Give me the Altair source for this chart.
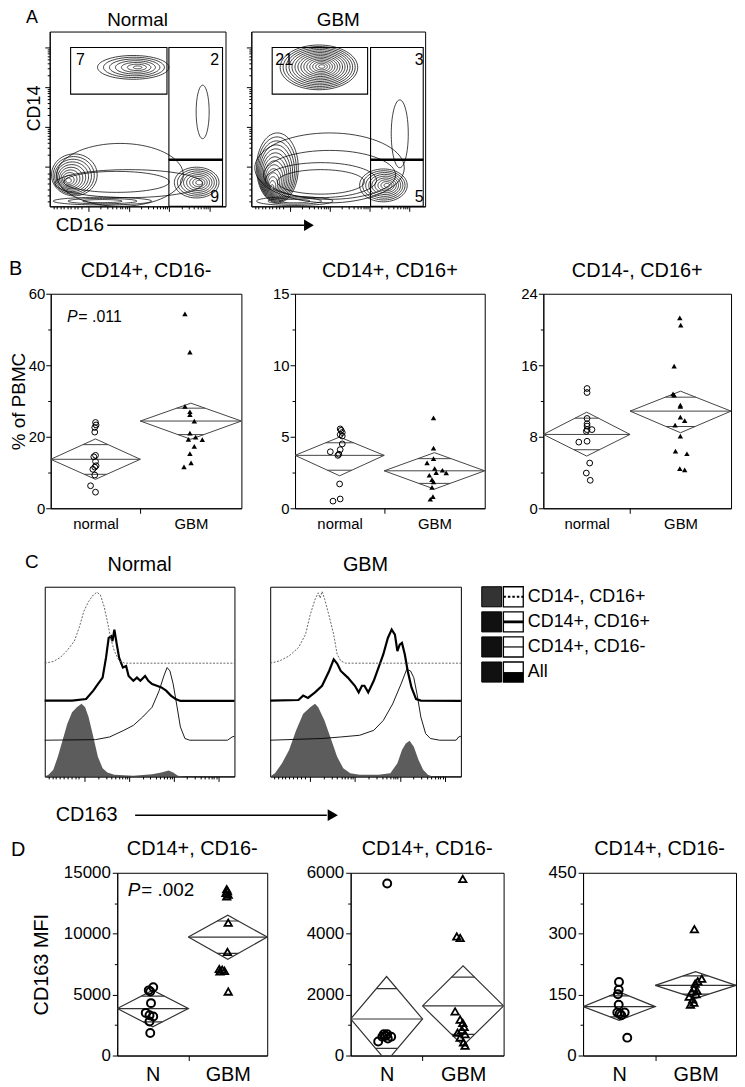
import altair as alt
import numpy as np
import pandas as pd

FONT = "Liberation Sans"

# ======================= Panel A : contour plots =======================
# cluster shape parameters (percent of axis range)
AN_ocx = [47.5, 87.0, 14.0, 83.6, 40.0, 45.0, 38.0, 30.0]
AN_ocy = [79.5, 54.0, 18.0, 13.6, 18.0, 13.0, 14.0, 3.0]
AN_icx = [50.0, 87.0, 10.7, 85.0, 40.0, 45.0, 38.0, 30.0]
AN_icy = [79.5, 54.0, 14.8, 13.6, 18.0, 13.0, 14.0, 3.0]
AN_rx = [20.3, 3.7, 13.0, 12.7, 36.0, 42.0, 30.0, 28.0]
AN_ry = [6.8, 15.3, 12.0, 8.8, 18.0, 8.0, 6.0, 2.2]
AN_rings = [7, 1, 10, 8, 1, 1, 1, 3]
AN_smin = [0.12, 1.0, 0.12, 0.15, 1.0, 1.0, 1.0, 0.4]

AG_ocx = [38.9, 85.4, 15.0, 76.0, 45.0, 45.0, 40.0, 40.0, 25.0]
AG_ocy = [79.5, 41.5, 22.0, 12.0, 22.0, 18.0, 15.0, 14.0, 3.0]
AG_icx = [40.5, 85.4, 12.0, 78.0, 45.0, 45.0, 40.0, 40.0, 25.0]
AG_icy = [80.0, 41.5, 10.8, 12.0, 22.0, 18.0, 15.0, 14.0, 3.0]
AG_rx = [22.3, 4.9, 12.0, 13.7, 43.0, 38.0, 32.0, 25.0, 22.0]
AG_ry = [12.8, 19.4, 20.0, 9.4, 20.0, 14.0, 10.0, 7.0, 2.5]
AG_rings = [14, 1, 14, 9, 1, 1, 1, 1, 3]
AG_smin = [0.08, 1.0, 0.08, 0.12, 1.0, 1.0, 1.0, 1.0, 0.4]

# gates
AN_gx0 = [11.9, 67.8, 67.8]
AN_gx1 = [66.7, 98.3, 98.3]
AG_gx0 = [12.0, 68.6, 68.6]
AG_gx1 = [66.9, 98.9, 98.9]
A_gy0 = [64.2, 26.7, 0.0]
A_gy1 = [90.9, 90.9, 26.7]
AN_lab = ["7", "2", "9"]
AN_lx = [17.5, 93.8, 93.8]
AG_lab = ["21", "3", "5"]
AG_lx = [18.9, 96.6, 96.6]
A_ly = [83.5, 83.5, 5.1]

# ======================= Panel B : % of PBMC =======================
B1_norm_y = [24.0, 23.3, 22.6, 21.3, 14.8, 14.4, 13.1, 11.9, 11.5, 10.9, 9.3, 6.3, 4.5]
B1_norm_x = [0.235, 0.238, 0.231, 0.231, 0.235, 0.226, 0.235, 0.238, 0.231, 0.221, 0.231, 0.209, 0.235]
B1_gbm_y = [54.4, 43.7, 28.5, 27.0, 26.2, 24.4, 21.0, 19.9, 19.3, 19.2, 17.3, 15.3, 12.7, 11.6]
B1_gbm_x = [0.704, 0.730, 0.704, 0.730, 0.730, 0.753, 0.730, 0.760, 0.722, 0.795, 0.753, 0.730, 0.736, 0.699]
B1_dia_n = [13.7, 19.4, 8.1, 17.8, 9.5]
B1_dia_g = [24.4, 29.4, 19.3, 28.0, 20.6]

B2_norm_y = [5.55, 5.45, 5.3, 5.15, 5.05, 4.5, 4.1, 3.95, 3.78, 3.7, 1.7, 0.65, 0.5]
B2_norm_x = [0.238, 0.243, 0.249, 0.238, 0.249, 0.249, 0.238, 0.186, 0.231, 0.226, 0.235, 0.238, 0.200]
B2_gbm_y = [6.32, 4.21, 3.47, 3.17, 2.78, 2.5, 2.66, 2.48, 2.31, 2.01, 1.85, 1.46, 0.81, 0.63]
B2_gbm_x = [0.730, 0.730, 0.730, 0.696, 0.736, 0.744, 0.777, 0.797, 0.708, 0.722, 0.730, 0.722, 0.727, 0.713]
B2_dia_n = [3.7, 4.98, 2.27, 4.58, 2.66]
B2_dia_g = [2.62, 3.89, 1.34, 3.47, 1.74]

B3_norm_y = [13.4, 12.95, 10.05, 9.45, 9.2, 8.8, 8.8, 8.6, 7.4, 7.5, 5.06, 3.94, 3.13]
B3_norm_x = [0.233, 0.233, 0.233, 0.233, 0.233, 0.233, 0.259, 0.229, 0.189, 0.233, 0.247, 0.229, 0.250]
B3_gbm_y = [21.3, 20.5, 15.9, 12.8, 12.65, 11.53, 11.4, 10.2, 9.8, 9.3, 8.07, 6.4, 6.1, 4.43, 4.3]
B3_gbm_x = [0.727, 0.732, 0.697, 0.691, 0.697, 0.730, 0.730, 0.730, 0.753, 0.702, 0.730, 0.704, 0.765, 0.727, 0.753]
B3_dia_n = [8.26, 10.75, 5.84, 10.08, 6.55]
B3_dia_g = [10.87, 13.1, 8.45, 12.43, 9.15]

# ======================= Panel C : CD163 histograms =======================
C_series = ["All", "CD14+, CD16-", "CD14+, CD16+", "CD14-, CD16+"]
C_offsets = [0.0, 19.1, 39.8, 59.7]

CN_fill_x = [0, 2.0, 4.5, 6.9, 9.4, 11.9, 14.4, 16.9, 19.4, 21.3, 23.1, 25.6, 28.0, 30.5, 33.0, 36.7, 46.7, 56.6, 61.5, 65.3, 67.7, 70.2, 73.9, 100]
CN_fill_h = [0, 0.9, 3.5, 10.4, 19.1, 27.8, 33.9, 36.5, 38.3, 36.5, 31.3, 20.9, 10.4, 4.3, 2.1, 0.9, 0.3, 1.2, 2.1, 3.1, 2.1, 0.3, 0, 0]
CN_thin_x = [0, 26.8, 34.2, 41.7, 46.7, 51.6, 56.6, 60.3, 62.8, 64.5, 66.0, 67.7, 69.5, 71.5, 73.9, 76.4, 96.3, 98.8, 100]
CN_thin_h = [0, 0.3, 1.7, 5.2, 7.8, 12.2, 17.4, 26.1, 33.9, 38.3, 36.5, 29.6, 19.1, 7.0, 0.9, 0, 0, 1.7, 2.1]
CN_thick_x = [0, 14.4, 21.8, 25.6, 28.0, 30.5, 32.3, 33.7, 35.0, 35.7, 36.7, 38.0, 39.2, 41.2, 42.9, 44.2, 46.7, 48.6, 50.4, 52.9, 54.6, 56.6, 59.1, 61.5, 64.0, 66.5, 69.0, 71.5, 100]
CN_thick_h = [0.2, 0.2, 1.0, 5.4, 8.9, 12.3, 22.8, 33.2, 34.1, 31.5, 37.6, 29.7, 22.8, 17.6, 18.4, 13.2, 10.6, 12.3, 10.6, 13.2, 10.6, 8.9, 8.0, 7.1, 5.4, 2.8, 1.0, 0, 0]
CN_dot_x = [0, 4.5, 8.2, 11.9, 15.6, 18.1, 20.6, 23.1, 25.6, 27.5, 29.3, 31.3, 33.0, 34.7, 36.7, 39.2, 42.2, 100]
CN_dot_h = [0, 0.9, 3.0, 6.8, 11.7, 18.6, 27.3, 32.5, 36.0, 37.4, 36.0, 29.9, 22.1, 13.4, 6.4, 1.2, 0, 0]

CG_fill_x = [0, 2.5, 6.2, 9.9, 13.6, 17.3, 21.0, 23.5, 25.2, 28.4, 32.1, 35.1, 38.3, 42.0, 46.9, 56.8, 63.0, 66.7, 69.1, 71.1, 73.1, 75.3, 77.8, 80.2, 82.7, 85.2, 100]
CG_fill_h = [0, 1.7, 7.0, 13.9, 24.3, 33.0, 36.5, 38.3, 36.5, 29.6, 19.1, 10.4, 4.3, 1.7, 0.9, 0.9, 1.7, 7.0, 13.9, 17.4, 18.8, 15.7, 8.7, 3.5, 0.9, 0, 0]
CG_thin_x = [0, 27.2, 37.0, 46.9, 54.3, 59.3, 64.2, 68.6, 71.6, 73.6, 75.3, 77.0, 79.0, 81.5, 84.0, 88.9, 97.5, 98.8, 100]
CG_thin_h = [0, 0.9, 1.7, 2.6, 5.2, 10.4, 19.1, 29.6, 37.4, 36.5, 33.0, 24.3, 12.2, 3.5, 0.9, 0, 0, 1.7, 2.1]
CG_thick_x = [0, 14.8, 17.3, 19.8, 23.5, 27.2, 30.9, 33.3, 35.1, 37.0, 40.7, 44.4, 46.4, 48.1, 49.4, 51.4, 54.3, 56.8, 59.3, 61.7, 63.7, 65.4, 66.7, 67.9, 69.1, 70.6, 72.1, 74.1, 76.5, 79.0, 100]
CG_thick_h = [0.2, 0.5, 2.8, 1.6, 4.5, 8.0, 15.8, 21.9, 19.7, 15.8, 12.3, 8.0, 4.5, 8.0, 8.0, 4.5, 10.6, 17.6, 24.5, 33.2, 37.6, 35.0, 26.3, 29.7, 30.6, 24.5, 15.8, 7.1, 1.0, 0.2, 0]
CG_dot_x = [0, 4.9, 9.9, 14.8, 18.5, 21.0, 23.5, 25.2, 26.2, 27.2, 28.6, 30.9, 33.3, 35.1, 37.0, 39.5, 100]
CG_dot_h = [0, 1.2, 3.8, 8.2, 15.1, 25.6, 33.6, 37.1, 34.3, 37.8, 33.6, 24.9, 15.1, 4.7, 1.2, 0, 0]

LEG_labels = ["CD14-, CD16+", "CD14+, CD16+", "CD14+, CD16-", "All"]
LEG_fill = ["#333333", "#111111", "#111111", "#111111"]

# ======================= Panel D : CD163 MFI =======================
D1_norm_y = [5600, 5350, 5250, 4300, 3500, 3300, 3200, 2800, 1850]
D1_norm_x = [0.24, 0.21, 0.22, 0.225, 0.19, 0.215, 0.24, 0.215, 0.22]
D1_gbm_y = [13650, 13500, 13350, 13200, 13050, 10900, 8500, 7100, 7050, 6950, 6900, 5250]
D1_gbm_x = [0.73, 0.735, 0.725, 0.74, 0.73, 0.74, 0.735, 0.68, 0.70, 0.715, 0.685, 0.74]
D1_dia_n = [3857, 5357, 2357, 4875, 2760]
D1_dia_g = [9720, 11520, 7900, 11040, 8390]

D2_norm_y = [5650, 460, 620, 700, 700, 620, 560, 640]
D2_norm_x = [0.239, 0.18, 0.207, 0.217, 0.239, 0.265, 0.243, 0.228]
D2_gbm_y = [5800, 3910, 3860, 1450, 1180, 1070, 940, 840, 750, 700, 590, 430, 320]
D2_gbm_x = [0.733, 0.694, 0.716, 0.683, 0.716, 0.733, 0.742, 0.727, 0.699, 0.748, 0.716, 0.738, 0.748]
D2_dia_n = [1200, 2593, -193, 2196, 236]
D2_dia_g = [1629, 2946, 321, 2571, 696]

D3_norm_y = [181, 162, 151, 125, 106, 103, 106, 99, 44]
D3_norm_x = [0.235, 0.233, 0.228, 0.233, 0.224, 0.239, 0.272, 0.250, 0.289]
D3_gbm_y = [311, 189, 183, 177, 165, 160, 157, 151, 145, 138, 130, 125]
D3_gbm_x = [0.728, 0.776, 0.750, 0.733, 0.724, 0.745, 0.711, 0.739, 0.694, 0.717, 0.725, 0.702]
D3_dia_n = [120.5, 156.7, 86.8, 147, 95]
D3_dia_g = [172.8, 206.5, 140.6, 196, 151]


# ======================= helpers =======================
def log_ticks(starts, width, low):
    major = [round(float(s), 3) for s in starts] + [round(float(starts[-1] + width), 3)]
    minor = [round(float(s + width * np.log10(k)), 3) for s in starts for k in range(2, 10)]
    minor += [float(v) for v in low]
    return major, minor


def js_list(vals):
    return "[" + ",".join(repr(float(v)) for v in vals) + "]"


def tick_axis(major, minor, **kw):
    mj = js_list(major)
    return alt.Axis(values=sorted(major + minor), labels=False, grid=False,
                    tickSize={"condition": {"test": f"indexof({mj}, datum.value) >= 0", "value": 5}, "value": 2.5},
                    domainColor="black", tickColor="black", **kw)


A_xmaj, A_xmin = log_ticks([22, 45, 68], 23, [2, 4, 6, 8, 10, 12, 14, 16, 18])
A_ymaj, A_ymin = log_ticks([22.7, 45.4, 68.1], 22.7, [3, 6, 9.7, 13, 16, 19])
C_xmaj, C_xmin = log_ticks([21, 44.5, 68], 23.5, [2, 4, 6, 8, 10, 12, 14, 16, 18])


def blank(w, h, letter=None, dx=0, offset=0, fs=18):
    props = dict(width=w, height=h, view=alt.ViewBackground(strokeOpacity=0))
    if letter:
        props["title"] = alt.TitleParams(letter, anchor="start", dx=dx, offset=offset,
                                         fontSize=fs, fontWeight="normal", font=FONT)
    return alt.Chart(pd.DataFrame({"v": [0]})).mark_point(opacity=0).encode(
        x=alt.X("v:Q", axis=None), y=alt.Y("v:Q", axis=None)).properties(**props)


def contour_panel(title, ocx, ocy, icx, icy, rx, ry, rings, smin,
                  gx0, gx1, labs, lx, w, h, first):
    th = np.linspace(0, 2 * np.pi, 73)
    rows = []
    for j in range(len(ocx)):
        n = rings[j]
        for r in range(n):
            t = r / (n - 1) if n > 1 else 0.0
            s = 1 - t * (1 - smin[j])
            cx = ocx[j] + t * (icx[j] - ocx[j])
            cy = ocy[j] + t * (icy[j] - ocy[j])
            for i, a in enumerate(th):
                rows.append({"ring": f"{j}_{r}", "i": i,
                             "x": float(cx + rx[j] * s * np.cos(a)),
                             "y": float(cy + ry[j] * s * np.sin(a))})
    cdf = pd.DataFrame(rows)
    xsc = alt.Scale(domain=[0, 100], nice=False)
    ysc = alt.Scale(domain=[0, 100], nice=False)
    xax = tick_axis(A_xmaj, A_xmin, title=None)
    if first:
        yax = tick_axis(A_ymaj, A_ymin, title="CD14", titleFontSize=18, titleFontWeight="normal",
                        titleX=-6, titleY=77)
    else:
        yax = tick_axis(A_ymaj, A_ymin, title=None)

    def X(f):
        return alt.X(f"{f}:Q", scale=xsc, axis=xax)

    def Y(f):
        return alt.Y(f"{f}:Q", scale=ysc, axis=yax)

    lines = alt.Chart(cdf).mark_line(color="black", strokeWidth=0.75, clip=True).encode(
        x=X("x"), y=Y("y"), detail="ring:N", order="i:Q")
    gdf = pd.DataFrame({"x0": gx0, "x1": gx1, "y0": A_gy0, "y1": A_gy1})
    gates = alt.Chart(gdf).mark_rect(fillOpacity=0, stroke="black", strokeWidth=1.1).encode(
        x=X("x0"), x2="x1:Q", y=Y("y0"), y2="y1:Q")
    tdf = pd.DataFrame({"tx0": [gx0[1]], "tx1": [gx1[1]], "ty": [A_gy1[2]]})
    thick = alt.Chart(tdf).mark_rule(strokeWidth=2.5, color="black").encode(
        x=X("tx0"), x2="tx1:Q", y=Y("ty"))
    ldf = pd.DataFrame({"lx": lx, "ly": A_ly, "t": labs})
    labels = alt.Chart(ldf).mark_text(fontSize=16, color="black").encode(
        x=X("lx"), y=Y("ly"), text="t:N")
    layers = [lines, gates, thick, labels]
    if first:
        ann = alt.Chart(pd.DataFrame({"t": ["CD16"]}))
        layers += [
            ann.mark_text(align="left", baseline="middle", fontSize=19, color="black").encode(
                text="t:N", x=alt.value(6), y=alt.value(195)),
            ann.mark_rule(strokeWidth=1.5, color="black").encode(
                x=alt.value(58), x2=alt.value(256), y=alt.value(195)),
            ann.mark_point(shape="triangle-right", filled=True, size=130, color="black", opacity=1).encode(
                x=alt.value(261), y=alt.value(195)),
        ]
    return alt.layer(*layers).properties(
        width=w, height=h,
        title=alt.TitleParams(title, fontSize=19, fontWeight="normal", offset=2, font=FONT))


def dot_panel(title, nx, ny, gx, gy, dia_n, dia_g, mid, ymax, ymajor, yminor, names,
              w, h, big, ytitle=None, ptext=None, pxy=None):
    cn, cg = mid / 2, (1 + mid) / 2
    xsc = alt.Scale(domain=[0, 1], nice=False, zero=False)
    ysc = alt.Scale(domain=[0, ymax], nice=False)
    xax = alt.Axis(values=[cn, mid, cg],
                   labelExpr=f"datum.value < {mid - 0.01} ? '{names[0]}' : (datum.value > {mid + 0.01} ? '{names[1]}' : '')",
                   tickColor={"condition": {"test": f"abs(datum.value - {mid}) < 0.001", "value": "black"},
                              "value": "transparent"},
                   tickSize=5, grid=False, title=None, labelFontSize=20 if big else 15,
                   labelPadding=4 if big else 3, domainColor="black", labelColor="black")
    mj = js_list(ymajor)
    ykw = dict(values=sorted(ymajor + yminor), format="d",
               labelExpr=f"indexof({mj}, datum.value) >= 0 ? datum.label : ''",
               tickSize={"condition": {"test": f"indexof({mj}, datum.value) >= 0", "value": 5}, "value": 3},
               grid=False, labelFontSize=17 if big else 15, labelPadding=2 if big else 1,
               domainColor="black", tickColor="black", labelColor="black")
    if ytitle:
        yax = alt.Axis(title=ytitle, titleFontSize=20 if big else 19, titleFontWeight="normal",
                       titlePadding=12 if big else 0, **ykw)
    else:
        yax = alt.Axis(title=None, **ykw)

    def X(f):
        return alt.X(f"{f}:Q", scale=xsc, axis=xax)

    def Y(f):
        return alt.Y(f"{f}:Q", scale=ysc, axis=yax)

    poly, hl = [], []
    for g, x0, x1, d in (("n", 0.0, mid, dia_n), ("g", mid, 1.0, dia_g)):
        mean, top, bot, ohi, olo = d
        xc = (x0 + x1) / 2
        for i, (px, py) in enumerate([(x0, mean), (xc, top), (x1, mean), (xc, bot), (x0, mean)]):
            poly.append({"grp": g, "i": i, "x": px, "y": py})
        hl.append({"x": x0, "x2": x1, "y": mean})
        for yl in (ohi, olo):
            span = (top - mean) if yl >= mean else (mean - bot)
            half = (x1 - x0) / 2 * (1 - abs(yl - mean) / span)
            hl.append({"x": xc - half, "x2": xc + half, "y": yl})
    lc = "#333333" if big else "#444444"
    lw = 1.2 if big else 1.0
    dia = alt.Chart(pd.DataFrame(poly)).mark_line(color=lc, strokeWidth=lw, clip=True).encode(
        x=X("x"), y=Y("y"), detail="grp:N", order="i:Q")
    hls = alt.Chart(pd.DataFrame(hl)).mark_rule(color=lc, strokeWidth=lw, clip=True).encode(
        x=X("x"), x2="x2:Q", y=Y("y"))
    if big:
        circ = alt.Chart(pd.DataFrame({"x": nx, "y": ny})).mark_point(
            shape="circle", filled=False, color="black", size=64, strokeWidth=2, opacity=1).encode(x=X("x"), y=Y("y"))
        tri = alt.Chart(pd.DataFrame({"x": gx, "y": gy})).mark_point(
            shape="triangle-up", filled=False, color="black", size=55, strokeWidth=1.8, opacity=1).encode(x=X("x"), y=Y("y"))
    else:
        circ = alt.Chart(pd.DataFrame({"x": nx, "y": ny})).mark_point(
            shape="circle", filled=False, color="black", size=34, strokeWidth=1, opacity=1).encode(x=X("x"), y=Y("y"))
        tri = alt.Chart(pd.DataFrame({"x": gx, "y": gy})).mark_point(
            shape="triangle-up", filled=True, color="black", size=30, opacity=1).encode(x=X("x"), y=Y("y"))
    layers = [dia, hls, circ, tri]
    if ptext:
        fs = 19 if big else 16
        pdf = pd.DataFrame({"x": [pxy[0]], "y": [pxy[1]], "p": ["P"], "t": [ptext]})
        layers += [
            alt.Chart(pdf).mark_text(align="left", baseline="middle", fontStyle="italic", fontSize=fs,
                                     color="black").encode(x=X("x"), y=Y("y"), text="p:N"),
            alt.Chart(pdf).mark_text(align="left", baseline="middle", fontSize=fs, dx=fs * 0.72,
                                     color="black").encode(x=X("x"), y=Y("y"), text="t:N"),
        ]
    return alt.layer(*layers).properties(
        width=w, height=h,
        title=alt.TitleParams(title, fontSize=20, fontWeight="normal", offset=6 if not big else 5, font=FONT))


def hist_panel(title, curves, w, h, annot):
    rows = []
    for name, off, (xs, hs) in zip(C_series, C_offsets, curves):
        for xi, hi in zip(xs, hs):
            rows.append({"s": name, "x": float(xi), "y": float(off + hi), "base": float(off)})
    df = pd.DataFrame(rows)
    X = alt.X("x:Q", scale=alt.Scale(domain=[0, 100], nice=False), axis=tick_axis(C_xmaj, C_xmin, title=None))
    Y = alt.Y("y:Q", scale=alt.Scale(domain=[0, 100], nice=False), axis=None)
    base = alt.Chart(df)
    area = base.transform_filter(alt.datum.s == "All").mark_area(color="#5c5c5c", opacity=1).encode(
        x=X, y=Y, y2="base:Q")
    thin = base.transform_filter(alt.datum.s == "CD14+, CD16-").mark_line(color="black", strokeWidth=0.9).encode(x=X, y=Y)
    thick = base.transform_filter(alt.datum.s == "CD14+, CD16+").mark_line(color="black", strokeWidth=2.2).encode(x=X, y=Y)
    dot = base.transform_filter(alt.datum.s == "CD14-, CD16+").mark_line(
        color="#555555", strokeWidth=0.9, strokeDash=[2, 1.5]).encode(x=X, y=Y)
    layers = [area, thin, thick, dot]
    if annot:
        ann = alt.Chart(pd.DataFrame({"t": ["CD163"]}))
        layers += [
            ann.mark_text(align="left", baseline="middle", fontSize=20, color="black").encode(
                text="t:N", x=alt.value(11), y=alt.value(230)),
            ann.mark_rule(strokeWidth=1.5, color="black").encode(
                x=alt.value(91), x2=alt.value(284), y=alt.value(230)),
            ann.mark_point(shape="triangle-right", filled=True, size=140, color="black", opacity=1).encode(
                x=alt.value(290), y=alt.value(230)),
        ]
    return alt.layer(*layers).properties(
        width=w, height=h,
        title=alt.TitleParams(title, fontSize=20, fontWeight="normal", offset=12, font=FONT))


def legend_chart():
    df = pd.DataFrame({"label": LEG_labels, "fill": LEG_fill})
    df["x0"], df["x1"], df["x2"], df["x3"], df["xt"] = 0.0, 20.0, 21.8, 41.8, 46.4
    xs = alt.Scale(domain=[0, 170], nice=False)
    Y = alt.Y("label:N", sort=LEG_labels, axis=None, scale=alt.Scale(paddingInner=0.2, paddingOuter=0))
    base = alt.Chart(df)

    def X(f):
        return alt.X(f"{f}:Q", scale=xs, axis=None)

    r1 = base.mark_rect(stroke="black", strokeWidth=1).encode(
        x=X("x0"), x2="x1:Q", y=Y, fill=alt.Fill("fill:N", scale=None))
    r2 = base.mark_rect(fill="white", stroke="black", strokeWidth=1.3).encode(x=X("x2"), x2="x3:Q", y=Y)
    d1 = base.transform_filter(alt.datum.label == LEG_labels[0]).mark_rule(
        strokeWidth=2, strokeDash=[2.5, 2], color="black").encode(x=X("x2"), x2="x3:Q", y=Y)
    d2 = base.transform_filter(alt.datum.label == LEG_labels[1]).mark_rule(
        strokeWidth=2.8, color="black").encode(x=X("x2"), x2="x3:Q", y=Y)
    d3 = base.transform_filter(alt.datum.label == LEG_labels[2]).mark_rule(
        strokeWidth=1.2, color="black").encode(x=X("x2"), x2="x3:Q", y=Y)
    d4 = base.transform_filter(alt.datum.label == LEG_labels[3]).mark_rule(
        strokeWidth=10, yOffset=5, color="black").encode(x=X("x2"), x2="x3:Q", y=Y)
    txt = base.mark_text(align="left", baseline="middle", fontSize=18, color="black").encode(
        x=X("xt"), y=Y, text="label:N")
    return alt.layer(r1, r2, d1, d2, d3, d4, txt).properties(
        width=170, height=96, view=alt.ViewBackground(strokeOpacity=0))


# ======================= assemble =======================
A_norm = contour_panel("Normal", AN_ocx, AN_ocy, AN_icx, AN_icy, AN_rx, AN_ry, AN_rings, AN_smin,
                       AN_gx0, AN_gx1, AN_lab, AN_lx, 177, 176, True)
A_gbm = contour_panel("GBM", AG_ocx, AG_ocy, AG_icx, AG_icy, AG_rx, AG_ry, AG_rings, AG_smin,
                      AG_gx0, AG_gx1, AG_lab, AG_lx, 175, 176, False)

B1 = dot_panel("CD14+, CD16-", B1_norm_x, B1_norm_y, B1_gbm_x, B1_gbm_y, B1_dia_n, B1_dia_g, 0.47, 60,
               [0, 20, 40, 60], [10, 30, 50], ["normal", "GBM"], 192, 216, False,
               ytitle="% of PBMC", ptext="= .011", pxy=(0.085, 53.6))
B2 = dot_panel("CD14+, CD16+", B2_norm_x, B2_norm_y, B2_gbm_x, B2_gbm_y, B2_dia_n, B2_dia_g, 0.47, 15,
               [0, 5, 10, 15], [2.5, 7.5, 12.5], ["normal", "GBM"], 191, 216, False)
B3 = dot_panel("CD14-, CD16+", B3_norm_x, B3_norm_y, B3_gbm_x, B3_gbm_y, B3_dia_n, B3_dia_g, 0.462, 24,
               [0, 8, 16, 24], [4, 12, 20], ["normal", "GBM"], 189, 216, False)

C_norm = hist_panel("Normal", [(CN_fill_x, CN_fill_h), (CN_thin_x, CN_thin_h), (CN_thick_x, CN_thick_h),
                               (CN_dot_x, CN_dot_h)], 191, 191, True)
C_gbm = hist_panel("GBM", [(CG_fill_x, CG_fill_h), (CG_thin_x, CG_thin_h), (CG_thick_x, CG_thick_h),
                           (CG_dot_x, CG_dot_h)], 192, 191, False)

D1 = dot_panel("CD14+, CD16-", D1_norm_x, D1_norm_y, D1_gbm_x, D1_gbm_y, D1_dia_n, D1_dia_g, 0.474, 15000,
               [0, 5000, 10000, 15000], [2500, 7500, 12500], ["N", "GBM"], 151, 184, True,
               ytitle="CD163 MFI", ptext="= .002", pxy=(0.07, 13600))
D2 = dot_panel("CD14+, CD16-", D2_norm_x, D2_norm_y, D2_gbm_x, D2_gbm_y, D2_dia_n, D2_dia_g, 0.47, 6000,
               [0, 2000, 4000, 6000], [1000, 3000, 5000], ["N", "GBM"], 154, 184, True)
D3 = dot_panel("CD14+, CD16-", D3_norm_x, D3_norm_y, D3_gbm_x, D3_gbm_y, D3_dia_n, D3_dia_g, 0.472, 450,
               [0, 150, 300, 450], [75, 225, 375], ["N", "GBM"], 154, 184, True)

rowA = alt.hconcat(blank(41, 1, "A", 17, 2, 18), A_norm, blank(26, 1), A_gbm,
                   spacing=0, bounds="flush")
rowB = alt.hconcat(blank(42, 1, "B", 0, 13, 20), B1, blank(54, 1), B2, blank(59, 1), B3,
                   spacing=0, bounds="flush")
rowC = alt.hconcat(blank(36, 1, "C", 16, 13, 19), C_norm, blank(36, 1), C_gbm, blank(21, 1), legend_chart(),
                   spacing=0, bounds="flush")
rowD = alt.hconcat(blank(109, 1, "D", 2, 11, 20), D1, blank(84, 1), D2, blank(80, 1), D3,
                   spacing=0, bounds="flush")

chart = alt.vconcat(
    rowA,
    alt.vconcat(rowB, alt.vconcat(rowC, rowD, spacing=12), spacing=20),
    spacing=22,
).properties(
    padding={"left": 0, "top": -3, "right": 0, "bottom": 0}
).configure(font=FONT).configure_view(
    stroke="black", strokeWidth=1
).configure_axis(
    labelFont=FONT, titleFont=FONT, labelColor="black", titleColor="black"
).configure_title(color="black", font=FONT, fontWeight="normal")

chart.save("out.html", embed_options={"renderer": "svg", "actions": False})
